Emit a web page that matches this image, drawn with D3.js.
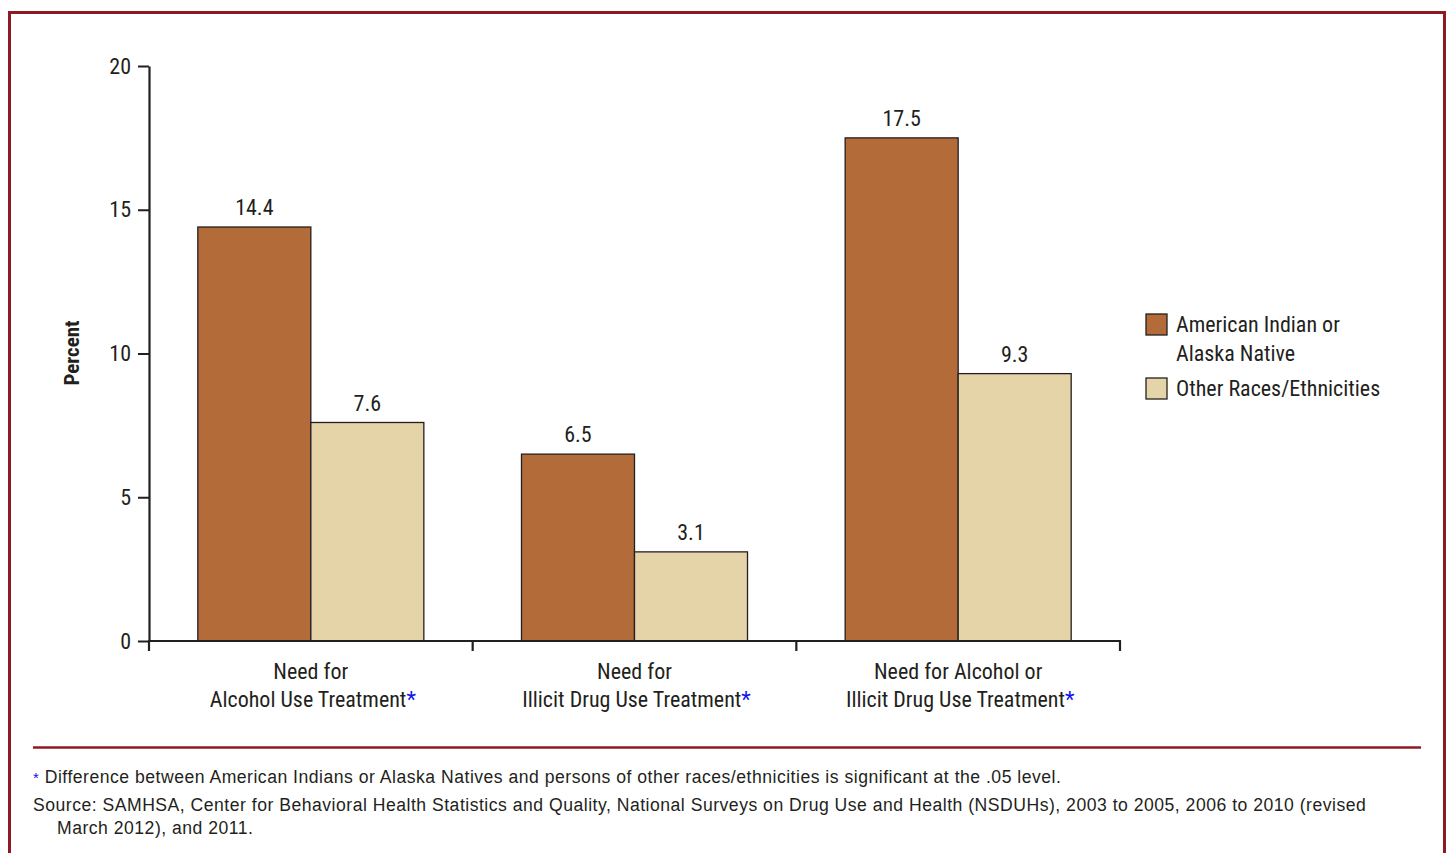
<!DOCTYPE html>
<html>
<head>
<meta charset="utf-8">
<script src="https://cdn.jsdelivr.net/npm/d3@7"></script>
<style>
  html, body { margin: 0; padding: 0; background: #fff; }
  svg { display: block; }
</style>
</head>
<body>
<svg id="chart" width="1448" height="853"></svg>
<script>
// Treatment need by race/ethnicity (percent)
const categories = [
  ["Need for", "Alcohol Use Treatment"],
  ["Need for", "Illicit Drug Use Treatment"],
  ["Need for Alcohol or", "Illicit Drug Use Treatment"]
];
const seriesNames = ["American Indian or Alaska Native", "Other Races/Ethnicities"];
const aianValues = [14.4, 6.5, 17.5];
const otherValues = [7.6, 3.1, 9.3];
const yTicks = [0, 5, 10, 15, 20];

const colors = ["#B36B3A", "#E5D4A8"];
const condensed = "'Liberation Sans Narrow', 'Arial Narrow', 'Roboto Condensed', sans-serif";
const regular = "'Liberation Sans', Arial, Helvetica, sans-serif";
const ink = "#231F20";

const svg = d3.select("#chart");

// outer frame
svg.append("rect")
  .attr("x", 9.5).attr("y", 12.5).attr("width", 1435).attr("height", 860)
  .attr("fill", "none").attr("stroke", "#8E1B21").attr("stroke-width", 3);

const x0 = d3.scaleBand().domain(d3.range(categories.length)).range([149, 1120]);
const x1 = d3.scaleBand().domain([0, 1]).range([0, x0.bandwidth()]).paddingOuter(0.432).paddingInner(0);
const y = d3.scaleLinear().domain([0, 20]).range([641, 66]);

// bars
const data = categories.map((c, i) => ({ i, vals: [aianValues[i], otherValues[i]] }));
const groups = svg.append("g").selectAll("g").data(data).join("g")
  .attr("transform", d => `translate(${x0(d.i)},0)`);
groups.selectAll("rect").data(d => d.vals.map((v, s) => ({ v, s }))).join("rect")
  .attr("x", d => x1(d.s))
  .attr("y", d => y(d.v))
  .attr("width", x1.bandwidth())
  .attr("height", d => y(0) - y(d.v))
  .attr("fill", d => colors[d.s])
  .attr("stroke", ink).attr("stroke-width", 1.3);
groups.selectAll("text").data(d => d.vals.map((v, s) => ({ v, s }))).join("text")
  .attr("x", d => x1(d.s) + x1.bandwidth() / 2)
  .attr("y", d => y(d.v) - 12)
  .attr("text-anchor", "middle")
  .attr("font-family", condensed).attr("font-size", 22).attr("fill", ink)
  .text(d => d.v.toFixed(1));

// y axis
const yAxis = d3.axisLeft(y).tickValues(yTicks).tickSize(11).tickPadding(7).tickSizeOuter(0);
const gy = svg.append("g").attr("transform", "translate(149,0)").call(yAxis);
gy.select(".domain").attr("stroke", ink).attr("stroke-width", 2.2);
gy.selectAll(".tick line").attr("stroke", ink).attr("stroke-width", 2);
gy.selectAll(".tick text").attr("font-family", condensed).attr("font-size", 22).attr("fill", ink);

// x axis with separators at band edges
const edges = d3.range(categories.length + 1).map(i => 149 + i * x0.step());
svg.append("line").attr("x1", 148).attr("x2", 1121).attr("y1", 641).attr("y2", 641)
  .attr("stroke", ink).attr("stroke-width", 2.2);
svg.append("g").selectAll("line").data(edges).join("line")
  .attr("x1", d => d).attr("x2", d => d).attr("y1", 641).attr("y2", 651)
  .attr("stroke", ink).attr("stroke-width", 2.2);

// category labels
const cat = svg.append("g").selectAll("text").data(categories).join("text")
  .attr("text-anchor", "middle")
  .attr("font-family", condensed).attr("font-size", 22).attr("fill", ink);
cat.append("tspan").attr("x", (d, i) => x0(i) + x0.bandwidth() / 2).attr("y", 679).text(d => d[0]);
const l2 = cat.append("tspan").attr("x", (d, i) => x0(i) + x0.bandwidth() / 2 + 2).attr("y", 707);
l2.append("tspan").text(d => d[1]);
l2.append("tspan").attr("fill", "#1414E6").text("*");

// y title
svg.append("text")
  .attr("transform", "translate(79,353) rotate(-90)")
  .attr("text-anchor", "middle")
  .attr("font-family", condensed).attr("font-weight", "bold").attr("font-size", 21).attr("fill", ink)
  .text("Percent");

// legend
const legend = svg.append("g").attr("transform", "translate(1145,313)");
const legendLines = [["American Indian or", "Alaska Native"], ["Other Races/Ethnicities"]];
const legendY = [0, 64];
legendLines.forEach((lines, s) => {
  const g = legend.append("g").attr("transform", `translate(0,${legendY[s]})`);
  g.append("rect").attr("x", 1).attr("y", 1).attr("width", 21).attr("height", 21)
    .attr("fill", colors[s]).attr("stroke", ink).attr("stroke-width", 1.3);
  lines.forEach((t, k) => {
    g.append("text").attr("x", 31).attr("y", 19 + k * 29)
      .attr("font-family", condensed).attr("font-size", 22).attr("fill", ink).text(t);
  });
});

// footnote separator
svg.append("line").attr("x1", 33).attr("x2", 1421).attr("y1", 747.5).attr("y2", 747.5)
  .attr("stroke", "#8E1B21").attr("stroke-width", 2.5);

// notes
const notes = svg.append("g").attr("font-family", regular).attr("font-size", 17.6)
  .attr("letter-spacing", 0.5).attr("fill", ink);
const n1 = notes.append("text").attr("x", 33).attr("y", 783);
n1.append("tspan").attr("fill", "#1414E6").attr("font-size", 15).text("*");
n1.append("tspan").text(" Difference between American Indians or Alaska Natives and persons of other races/ethnicities is significant at the .05 level.");
notes.append("text").attr("x", 33).attr("y", 811)
  .text("Source: SAMHSA, Center for Behavioral Health Statistics and Quality, National Surveys on Drug Use and Health (NSDUHs), 2003 to 2005, 2006 to 2010 (revised");
notes.append("text").attr("x", 57).attr("y", 834).text("March 2012), and 2011.");
</script>
</body>
</html>
